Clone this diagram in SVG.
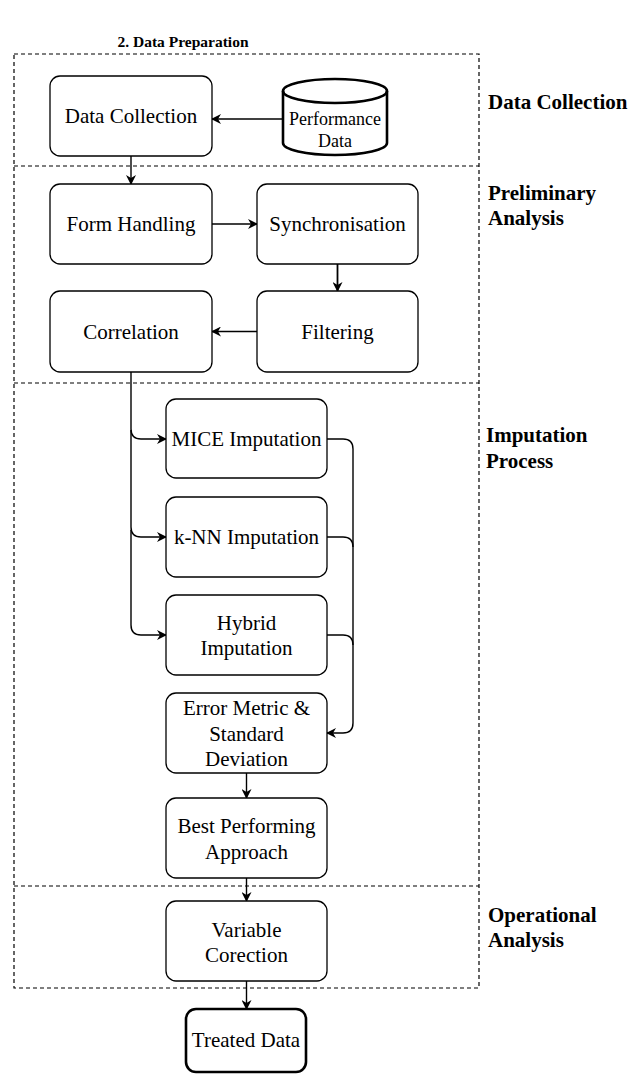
<svg xmlns="http://www.w3.org/2000/svg" width="632" height="1075" viewBox="0 0 632 1075">
  <style>
    .frame { fill: none; stroke: #000; stroke-width: 1.2; stroke-dasharray: 4 3; }
    .box { fill: #fff; stroke: #000; stroke-width: 1.3; }
    .thick { fill: #fff; stroke: #000; stroke-width: 2.6; }
    .lbl { font-family: "Liberation Serif", "Times New Roman", serif; font-size: 21px; fill: #000; text-anchor: middle; }
    .small { font-size: 18px; }
    .sec { font-family: "Liberation Serif", "Times New Roman", serif; font-size: 21px; font-weight: bold; fill: #000; }
    .title { font-family: "Liberation Serif", "Times New Roman", serif; font-size: 15.5px; font-weight: bold; fill: #000; text-anchor: middle; }
    .edge { fill: none; stroke: #000; stroke-width: 1.4; marker-end: url(#arrow); }
    .join { fill: none; stroke: #000; stroke-width: 1.4; }
  </style>
  <defs>
    <marker id="arrow" viewBox="0 0 10 10" refX="9" refY="5" markerWidth="10" markerHeight="10" markerUnits="userSpaceOnUse" orient="auto">
      <path d="M0,0 L10,5 L0,10 L3,5 Z" fill="#000"/>
    </marker>
  </defs>
  <rect width="632" height="1075" fill="#fff"/>

  <text class="title" x="183" y="47">2. Data Preparation</text>

  <!-- stage frames -->
  <g id="frames">
    <rect class="frame" x="14" y="54" width="465" height="934"/>
    <line class="frame" x1="14" y1="166" x2="479" y2="166"/>
    <line class="frame" x1="14" y1="383" x2="479" y2="383"/>
    <line class="frame" x1="14" y1="886" x2="479" y2="886"/>
  </g>

  <!-- stage labels -->
  <g id="stage-labels">
    <text class="sec" x="488" y="109">Data Collection</text>
    <text class="sec" x="488" y="200">Preliminary</text>
    <text class="sec" x="488" y="225">Analysis</text>
    <text class="sec" x="486" y="442">Imputation</text>
    <text class="sec" x="486" y="468">Process</text>
    <text class="sec" x="488" y="922">Operational</text>
    <text class="sec" x="488" y="947">Analysis</text>
  </g>

  <!-- connectors -->
  <g id="connectors">
    <path class="edge" d="M283,119 L212,119"/>
    <path class="edge" d="M131,156 L131,184"/>
    <path class="edge" d="M212,224 L257,224"/>
    <path class="edge" d="M337.5,264 L337.5,291" style="stroke-width:1.8"/>
    <path class="edge" d="M257,331.5 L212,331.5"/>
    <path class="edge" d="M131,372 L131,429 Q131,439 141,439 L166,439"/>
    <path class="edge" d="M131,430 L131,527 Q131,537 141,537 L166,537"/>
    <path class="edge" d="M131,530 L131,625 Q131,635 141,635 L166,635"/>
    <path class="edge" d="M327,439 L343,439 Q353,439 353,449 L353,723 Q353,733 343,733 L327,733"/>
    <path class="join" d="M327,537 L343,537 Q353,537 353,547"/>
    <path class="join" d="M327,635 L343,635 Q353,635 353,645"/>
    <path class="edge" d="M246.5,773 L246.5,798"/>
    <path class="edge" d="M246.5,878 L246.5,901"/>
    <path class="edge" d="M246.5,981 L246.5,1009"/>
  </g>

  <g id="data-collection">
    <rect class="box" x="50" y="76" width="162" height="80" rx="10"/>
    <text class="lbl" x="131" y="123">Data Collection</text>
  </g>

  <g id="performance-data">
    <path class="thick" d="M283,91 A52,12 0 0 1 387,91 L387,143 A52,12 0 0 1 283,143 Z"/>
    <path fill="none" stroke="#000" stroke-width="2.6" d="M283,91 A52,12 0 0 0 387,91"/>
    <text class="lbl small" x="335" y="125">Performance</text>
    <text class="lbl small" x="335" y="147">Data</text>
  </g>

  <g id="form-handling">
    <rect class="box" x="50" y="184" width="162" height="80" rx="10"/>
    <text class="lbl" x="131" y="231">Form Handling</text>
  </g>

  <g id="synchronisation">
    <rect class="box" x="257" y="184" width="161" height="80" rx="10"/>
    <text class="lbl" x="337.5" y="231">Synchronisation</text>
  </g>

  <g id="correlation">
    <rect class="box" x="50" y="291" width="162" height="81" rx="10"/>
    <text class="lbl" x="131" y="339">Correlation</text>
  </g>

  <g id="filtering">
    <rect class="box" x="257" y="291" width="161" height="81" rx="10"/>
    <text class="lbl" x="337.5" y="339">Filtering</text>
  </g>

  <g id="mice-imputation">
    <rect class="box" x="166" y="399" width="161" height="79" rx="10"/>
    <text class="lbl" x="246.5" y="446">MICE Imputation</text>
  </g>

  <g id="knn-imputation">
    <rect class="box" x="166" y="497" width="161" height="80" rx="10"/>
    <text class="lbl" x="246.5" y="544">k-NN Imputation</text>
  </g>

  <g id="hybrid-imputation">
    <rect class="box" x="166" y="595" width="161" height="80" rx="10"/>
    <text class="lbl" x="246.5" y="630">Hybrid</text>
    <text class="lbl" x="246.5" y="655">Imputation</text>
  </g>

  <g id="error-metric">
    <rect class="box" x="166" y="693" width="161" height="80" rx="10"/>
    <text class="lbl" x="246.5" y="715">Error Metric &amp;</text>
    <text class="lbl" x="246.5" y="741">Standard</text>
    <text class="lbl" x="246.5" y="766">Deviation</text>
  </g>

  <g id="best-approach">
    <rect class="box" x="166" y="798" width="161" height="80" rx="10"/>
    <text class="lbl" x="246.5" y="833">Best Performing</text>
    <text class="lbl" x="246.5" y="859">Approach</text>
  </g>

  <g id="variable-correction">
    <rect class="box" x="166" y="901" width="161" height="80" rx="10"/>
    <text class="lbl" x="246.5" y="937">Variable</text>
    <text class="lbl" x="246.5" y="962">Corection</text>
  </g>

  <g id="treated-data">
    <rect class="thick" x="186" y="1009" width="120" height="63" rx="10"/>
    <text class="lbl" x="246" y="1047">Treated Data</text>
  </g>
</svg>
